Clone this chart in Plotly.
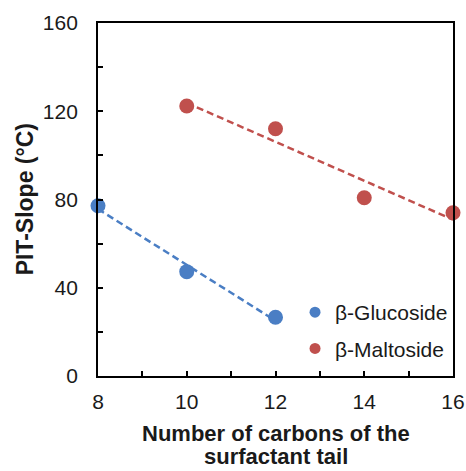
import numpy as np
import plotly.graph_objects as go

glu_x = [8, 10, 12]
glu_y = [77.2, 47.3, 26.6]
mal_x = [10, 12, 14, 16]
mal_y = [122.4, 112.1, 80.8, 74.0]

BLUE = "#4A7EC4"
RED = "#C0504D"
FONT = "Arial, Liberation Sans"

def fit(x, y):
    m, b = np.polyfit(x, y, 1)
    xs = [min(x), max(x)]
    return xs, [m * v + b for v in xs]

fig = go.Figure()
gx, gy = fit(glu_x, glu_y)
mx, my = fit(mal_x, mal_y)
fig.add_trace(go.Scatter(x=gx, y=gy, mode="lines", line=dict(color=BLUE, width=2.5, dash="7px,4px"),
                         showlegend=False, hoverinfo="skip"))
fig.add_trace(go.Scatter(x=mx, y=my, mode="lines", line=dict(color=RED, width=2.5, dash="7px,4px"),
                         showlegend=False, hoverinfo="skip"))
fig.add_trace(go.Scatter(x=glu_x, y=glu_y, mode="markers", name="β-Glucoside", showlegend=False,
                         marker=dict(color=BLUE, size=15), cliponaxis=False))
fig.add_trace(go.Scatter(x=mal_x, y=mal_y, mode="markers", name="β-Maltoside", showlegend=False,
                         marker=dict(color=RED, size=15), cliponaxis=False))
# legend entries (smaller symbols, as in the reference)
fig.add_trace(go.Scatter(x=[None], y=[None], mode="markers", name="β-Glucoside", legendgroup="g",
                         marker=dict(color=BLUE, size=11)))
fig.add_trace(go.Scatter(x=[None], y=[None], mode="markers", name="β-Maltoside", legendgroup="m",
                         marker=dict(color=RED, size=11)))

fig.update_layout(
    width=466, height=471,
    margin=dict(l=98, r=13, t=23, b=95, autoexpand=False),
    plot_bgcolor="white", paper_bgcolor="white",
    font=dict(family=FONT, color="#1a1a1a"),
    showlegend=True,
    legend=dict(x=0.555, y=0.238, xanchor="left", yanchor="top", bgcolor="rgba(0,0,0,0)",
                font=dict(size=21), itemwidth=30, tracegroupgap=6, traceorder="grouped"),
    xaxis=dict(range=[8, 16], dtick=2, tick0=8, showgrid=False, zeroline=False, automargin=False,
               showline=True, linecolor="black", linewidth=1.8, mirror=True,
               ticks="inside", ticklen=5, tickcolor="black", tickwidth=1.5,
               minor=dict(dtick=1, ticks="inside", ticklen=5, tickcolor="black", tickwidth=1.5),
               tickfont=dict(size=21), ticklabelstandoff=6),
    yaxis=dict(range=[0, 160], dtick=40, showgrid=False, zeroline=False, automargin=False,
               showline=True, linecolor="black", linewidth=1.8, mirror=True,
               ticks="inside", ticklen=5, tickcolor="black", tickwidth=1.5,
               minor=dict(dtick=20, ticks="inside", ticklen=5, tickcolor="black", tickwidth=1.5),
               tickfont=dict(size=21), ticklabelstandoff=14),
    annotations=[
        dict(text="<b>Number of carbons of the</b>", xref="paper", yref="paper", x=0.5, y=-0.164,
             xanchor="center", yanchor="middle", showarrow=False, font=dict(size=22)),
        dict(text="<b>surfactant tail</b>", xref="paper", yref="paper", x=0.5, y=-0.229,
             xanchor="center", yanchor="middle", showarrow=False, font=dict(size=22)),
        dict(text="<b>PIT-Slope (°C)</b>", xref="paper", yref="paper", x=-0.206, y=0.5,
             xanchor="center", yanchor="middle", textangle=-90, showarrow=False, font=dict(size=23)),
    ],
)
fig.write_html("out.html", config={"displayModeBar": False},
               post_script="document.body.style.margin='0';document.body.style.overflow='hidden';")
